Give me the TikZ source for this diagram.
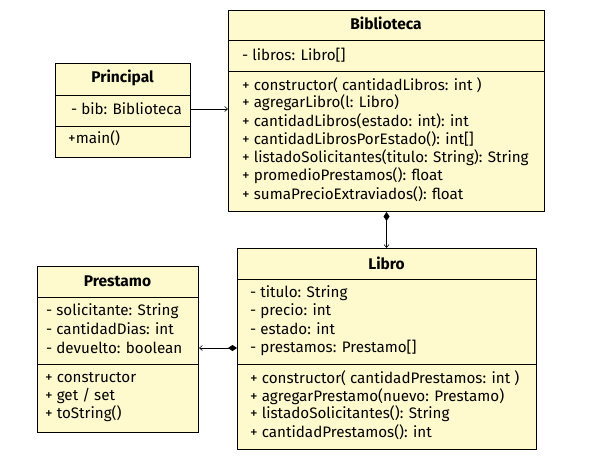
\documentclass[tikz,border=0pt]{standalone}
\usepackage{fontspec}
\setmainfont{Fira Sans}
\usetikzlibrary{arrows.meta}
\definecolor{umlfill}{RGB}{255,250,205}
\tikzset{
  umlbox/.style={draw=black, line width=1pt, fill=umlfill, anchor=north west, inner sep=0pt},
  ttl/.style={font=\fontsize{15.5}{17}\selectfont\bfseries, inner sep=0pt},
  itm/.style={font=\fontsize{15.2}{17}\selectfont, anchor=west, inner sep=0pt},
  sep/.style={line width=1pt},
  conn/.style={line width=0.8pt},
  opentip/.style={-{Straight Barb[length=3pt,width=5pt,line width=0.6pt]}},
  comptip/.style={{Diamond[length=9pt,width=6pt]}-{Straight Barb[length=3pt,width=5pt,line width=0.6pt]}}
}
\begin{document}
\begin{tikzpicture}[x=1pt,y=-1pt]
\useasboundingbox[fill=white] (0,0) rectangle (590,463);

% Principal
\node[umlbox, minimum width=135pt, minimum height=94pt] (princ) at (55,63) {};
\draw[sep] (princ.west |- 0,95) -- (princ.east |- 0,95);
\draw[sep] (princ.west |- 0,126) -- (princ.east |- 0,126);
\node[ttl] (princt) at (122.5,78) {Principal};
\node[itm] (pbib) at (71,109) {- bib: Biblioteca};
\node[itm] (pmain) at (68,138) {+main()};

% Biblioteca
\node[umlbox, minimum width=316pt, minimum height=201pt] (bibl) at (228,10) {};
\draw[sep] (bibl.west |- 0,40) -- (bibl.east |- 0,40);
\draw[sep] (bibl.west |- 0,71) -- (bibl.east |- 0,71);
\node[ttl] (biblt) at (386,23) {Biblioteca};
\node[itm] (b1) at (242,55) {- libros: Libro[]};
\node[itm] (b2) at (242,85) {+ constructor( cantidadLibros: int )};
\node[itm] (b3) at (242,103) {+ agregarLibro(l: Libro)};
\node[itm] (b4) at (242,121) {+ cantidadLibros(estado: int): int};
\node[itm] (b5) at (242,139) {+ cantidadLibrosPorEstado(): int[]};
\node[itm] (b6) at (242,158) {+ listadoSolicitantes(titulo: String): String};
\node[itm] (b7) at (242,176) {+ promedioPrestamos(): float};
\node[itm] (b8) at (242,194) {+ sumaPrecioExtraviados(): float};

% Libro
\node[umlbox, minimum width=299pt, minimum height=201pt] (libro) at (237,248) {};
\draw[sep] (libro.west |- 0,279) -- (libro.east |- 0,279);
\draw[sep] (libro.west |- 0,364) -- (libro.east |- 0,364);
\node[ttl] (librot) at (386.5,263) {Libro};
\node[itm] (l1) at (250,293) {- titulo: String};
\node[itm] (l2) at (250,311) {- precio: int};
\node[itm] (l3) at (250,329) {- estado: int};
\node[itm] (l4) at (250,348) {- prestamos: Prestamo[]};
\node[itm] (l5) at (250,378) {+ constructor( cantidadPrestamos: int )};
\node[itm] (l6) at (250,397) {+ agregarPrestamo(nuevo: Prestamo)};
\node[itm] (l7) at (250,414) {+ listadoSolicitantes(): String};
\node[itm] (l8) at (250,432) {+ cantidadPrestamos(): int};

% Prestamo
\node[umlbox, minimum width=161pt, minimum height=166pt] (prest) at (37,266) {};
\draw[sep] (prest.west |- 0,297) -- (prest.east |- 0,297);
\draw[sep] (prest.west |- 0,364) -- (prest.east |- 0,364);
\node[ttl] (prestt) at (117.5,281) {Prestamo};
\node[itm] (p1) at (46,311) {- solicitante: String};
\node[itm] (p2) at (46,329) {- cantidadDias: int};
\node[itm] (p3) at (46,348) {- devuelto: boolean};
\node[itm] (p4) at (45,378) {+ constructor};
\node[itm] (p5) at (45,396) {+ get / set};
\node[itm] (p6) at (45,414) {+ toString()};

% Connectors
\draw[conn, opentip] (princ.east |- pbib) -- (bibl.west |- pbib);
\draw[conn, comptip] (bibl.south) -- (bibl.south |- libro.north);
\draw[conn, comptip] (libro.west |- l4) -- (prest.east |- l4);
\end{tikzpicture}
\end{document}
